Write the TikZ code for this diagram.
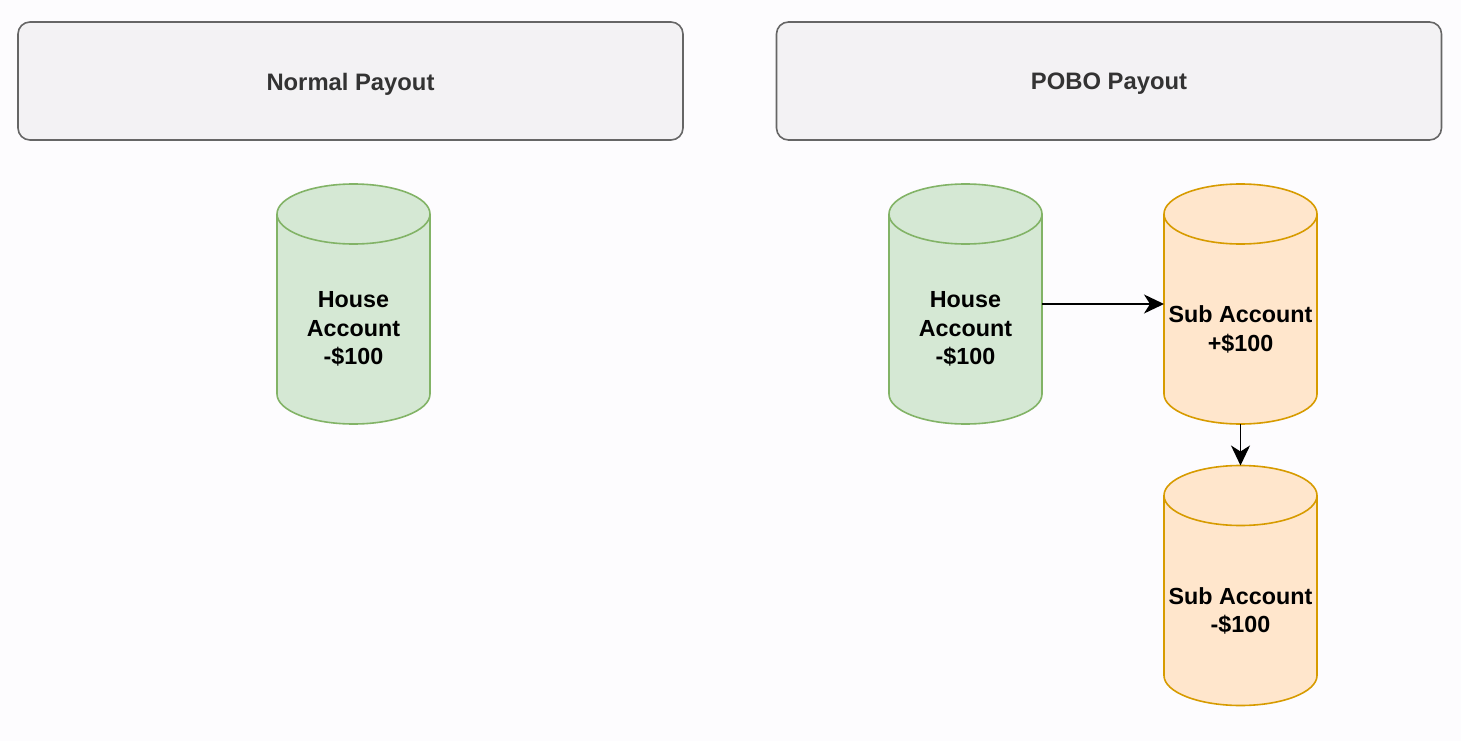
\documentclass[tikz,border=0pt]{standalone}
\usepackage{fontspec}
\setmainfont{Liberation Sans}
\usetikzlibrary{calc,arrows.meta}
\definecolor{bgc}{HTML}{FDFCFE}
\definecolor{boxfill}{HTML}{F3F2F4}
\definecolor{boxline}{HTML}{666666}
\definecolor{titlec}{HTML}{333333}
\definecolor{gfill}{HTML}{D5E8D4}
\definecolor{gline}{HTML}{82B366}
\definecolor{ofill}{HTML}{FFE6CC}
\definecolor{oline}{HTML}{D79B00}
\newcommand\drawcyl[3]{%
  \path[fill=#2,draw=#3,line width=1.6pt]
    ($(#1.north west)+(0,-30)$) -- ($(#1.south west)+(0,30)$)
    arc[start angle=180,end angle=360,x radius=76.5pt,y radius=30pt]
    -- ($(#1.north east)+(0,-30)$)
    arc[start angle=0,end angle=180,x radius=76.5pt,y radius=30pt] -- cycle;
  \draw[draw=#3,line width=1.6pt] ($(#1.north west)+(0,-30)$)
    arc[start angle=180,end angle=360,x radius=76.5pt,y radius=30pt];}
\tikzset{
  titlebox/.style={draw=boxline,fill=boxfill,line width=1.6pt,rounded corners=12pt,
    minimum width=665pt,minimum height=118pt,inner sep=0pt,outer sep=0pt},
  titletext/.style={font=\fontsize{23.8}{28}\selectfont\bfseries,text=titlec,inner sep=0pt},
  cylbox/.style={minimum width=153pt,minimum height=240pt,inner sep=0pt,outer sep=0pt},
  cyltext/.style={align=center,font=\fontsize{23.3}{28.5}\selectfont\bfseries,text=black,inner sep=0pt},
  conn/.style={line width=1.8pt,-{Stealth[length=20pt,width=19pt,inset=6pt]}}
}
\begin{document}
\begin{tikzpicture}[x=1pt,y=1pt]
\useasboundingbox[fill=bgc] (0,0) rectangle (1461,-741);
\node[titlebox] (tn) at (350.5,-81) {};
\node[titletext] (tnt) at (350.5,-84) {Normal Payout};
\node[titlebox] (tp) at (1109,-81) {};
\node[titletext] (tpt) at (1109,-84) {POBO Payout};
% cylinders
\node[cylbox] (h1) at (353.5,-304) {};
\drawcyl{h1}{gfill}{gline}
\node[cyltext] (h1t) at (353.5,-329) {House\\Account\\-\$100};
\node[cylbox] (h2) at (965.5,-304) {};
\drawcyl{h2}{gfill}{gline}
\node[cyltext] (h2t) at (965.5,-329) {House\\Account\\-\$100};
\node[cylbox] (s1) at (1240.5,-304) {};
\drawcyl{s1}{ofill}{oline}
\node[cyltext] (s1t) at (1240.5,-329.5) {Sub Account\\+\$100};
\node[cylbox] (s2) at (1240.5,-585.5) {};
\drawcyl{s2}{ofill}{oline}
\node[cyltext] (s2t) at (1240.5,-611) {Sub Account\\-\$100};
\draw[conn] (h2.east) -- (s1.west);
\draw[conn] (s1.south) -- (s2.north);
\end{tikzpicture}
\end{document}
